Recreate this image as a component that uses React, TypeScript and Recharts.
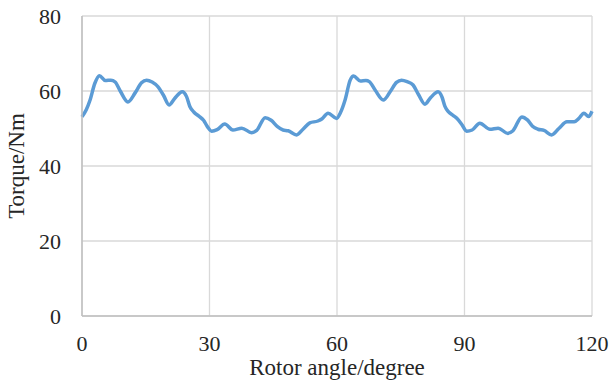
import { LineChart, Line, XAxis, YAxis, CartesianGrid, Label } from 'recharts';

// rotor angle (degree) and torque (Nm) samples
const angles = [
  0, 1, 1.9, 3, 4.1, 5.5, 6.8, 7.8, 9, 10.8, 12.5, 14, 15.2, 16.5, 17.9, 19.2, 20.5, 21.8, 23.6, 24.6,
  25.4, 26.3, 27.5, 28.6, 29.5, 30.5, 31.8, 33.6, 35.5, 37.6, 39.9, 41.1, 43.1, 44.5, 46, 47.3, 48.5,
  50.5, 52, 53.6, 55.5, 56.5, 57.9, 59.9, 60.8, 61.9, 63.1, 63.9, 65.5, 66.8, 67.6, 69, 70.9, 72.5,
  74, 75.2, 76.5, 77.9, 79.2, 80.7, 82, 83.8, 84.7, 85.4, 86.2, 87.3, 88.3, 89.4, 90.5, 91.8, 93.6,
  96, 97.9, 100.2, 101.4, 103.5, 104.8, 106, 107.3, 108.7, 110.5, 112.2, 114.1, 115.8, 117, 118.1,
  119.2, 120,
];
const torque = [
  53.1, 55, 57.6, 62, 64.1, 62.8, 62.9, 62.4, 60, 57.1, 59.5, 62.2, 62.9, 62.4, 61.1, 58.8, 56.3, 58,
  59.8, 58.5, 55.8, 54.4, 53.3, 52.2, 50.5, 49.3, 49.7, 51.2, 49.6, 50.1, 48.9, 49.5, 52.9, 52.2, 50.5,
  49.6, 49.4, 48.3, 49.8, 51.5, 52, 52.6, 54.1, 52.7, 54.2, 57.6, 62.9, 64, 62.7, 62.8, 62.5, 60.2,
  57.6, 59.8, 62.3, 62.9, 62.5, 61.6, 59, 56.5, 58.2, 59.8, 58.4, 55.9, 54.5, 53.5, 52.6, 51, 49.3,
  49.6, 51.4, 49.8, 50.1, 48.7, 49.4, 53.1, 52.3, 50.6, 49.8, 49.5, 48.3, 50, 51.8, 51.8, 52.8, 54.1,
  53.2, 54.6,
];
const xTicks = [0, 30, 60, 90, 120];
const yTicks = [0, 20, 40, 60, 80];

const data = angles.map((a, i) => ({ angle: a, torque: torque[i] }));

const font = '"Liberation Serif", "Times New Roman", serif';
const tickStyle = { fontFamily: font, fontSize: 22, fill: '#262626' };

function YTitle(props: any) {
  const vb = props.viewBox || {};
  const cx = 16;
  const cy = (vb.y ?? 0) + (vb.height ?? 0) / 2;
  return (
    <text
      x={cx}
      y={cy}
      transform={`rotate(-90, ${cx}, ${cy})`}
      textAnchor="middle"
      dy="0.355em"
      style={{ fontFamily: font, fontSize: 23, fill: '#262626' }}
    >
      Torque/Nm
    </text>
  );
}

export default function App() {
  return (
    <div style={{ position: 'absolute', left: 0, top: 0, background: '#fff' }}>
      <LineChart width={612} height={380} data={data} margin={{ top: 16, right: 20, left: 0, bottom: 0 }}>
        <CartesianGrid stroke="#d9d9d9" strokeWidth={1.3} />
        <XAxis
          dataKey="angle"
          type="number"
          domain={[0, 120]}
          ticks={xTicks}
          height={64}
          tickLine={false}
          tickMargin={13}
          axisLine={{ stroke: '#bfbfbf', strokeWidth: 1.5 }}
          tick={tickStyle}
          interval={0}
        >
          <Label
            value="Rotor angle/degree"
            position="insideBottom"
            offset={5}
            style={{ fontFamily: font, fontSize: 23, fill: '#262626' }}
          />
        </XAxis>
        <YAxis
          type="number"
          domain={[0, 80]}
          ticks={yTicks}
          width={82}
          tickLine={false}
          tickMargin={15}
          axisLine={{ stroke: '#bfbfbf', strokeWidth: 1.5 }}
          tick={tickStyle}
          interval={0}
        >
          <Label content={<YTitle />} />
        </YAxis>
        <Line
          type="monotone"
          dataKey="torque"
          stroke="#5b9bd5"
          strokeWidth={3.5}
          dot={false}
          isAnimationActive={false}
        />
      </LineChart>
    </div>
  );
}
